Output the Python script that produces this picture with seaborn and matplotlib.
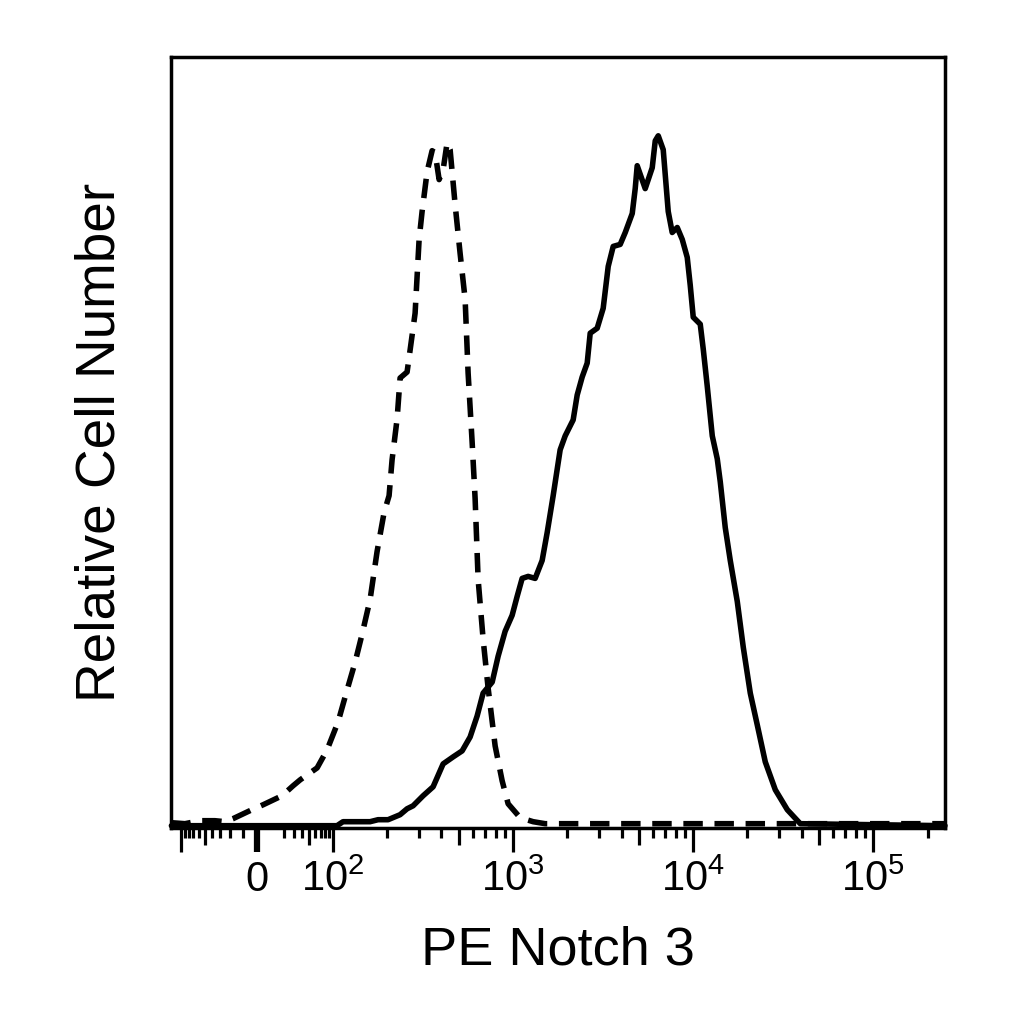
import numpy as np
import pandas as pd
import seaborn as sns
import matplotlib.pyplot as plt

# isotype control (dashed)
iso_x = [-113, -89.3, -57.5, -36.0, -25.0, -17.8, -3.5, 4.2, 18.6, 29.1, 37.3, 63.1, 84.3,
         106.6, 119.6, 132.6, 144.9, 160.6, 175.6, 192.0, 204.7, 212.7, 226.8, 235.6, 257.7,
         267.8, 285.5, 300.5, 312.2, 332.9, 354.8, 368.7, 388.1, 408.5, 429.9, 446.7, 476.2,
         507.6, 541.2, 562.3, 591.8, 615.0, 639.1, 681.3, 726.3, 794.3, 868.8, 937.9, 1093.6,
         1291.5, 1506, 250000]
iso_y = [0.39, 0.26, 0.65, 0.65, 0.52, 0.91, 2.08, 2.72, 3.89, 5.19, 5.97, 7.52, 9.86,
         13.49, 17.64, 21.27, 24.90, 29.44, 35.67, 40.73, 42.93, 47.60, 52.92, 58.24, 59.02,
         61.87, 66.67, 76.26, 79.90, 85.08, 87.81, 87.55, 84.05, 85.34, 88.85, 87.94, 80.80,
         74.45, 68.48, 58.88, 49.94, 42.54, 32.04, 24.25, 17.90, 10.38, 5.84, 2.85, 1.04,
         0.52, 0.26, 0.26]

# PE Notch 3 stained (solid)
notch_x = [-113, 105.2, 113.6, 160.6, 177.8, 202.1, 235.6, 257.7, 278.3, 316.2, 359.4, 408.5,
           464.2, 520.9, 576.9, 631.0, 681.3, 764.9, 825.4, 902.7, 987.3, 1052.5, 1122, 1211.5,
           1325, 1449, 1545, 1668, 1824, 1945, 2154, 2268, 2417, 2577, 2678, 2929, 3162, 3372,
           3594, 3930, 4192, 4584, 4762, 4885, 5412, 5920, 6152, 6393, 6813, 7263, 7642, 8150,
           8690, 9261, 9624, 10000, 10937, 11365, 11958, 12755, 13594, 14125, 15058, 16054,
           17557, 18957, 20734, 22679, 25119, 28554, 33285, 39300, 250000]
notch_y = [0, 0, 0.52, 0.52, 0.78, 0.78, 1.43, 2.20, 2.59, 3.89, 5.06, 8.04,
           8.95, 9.73, 11.54, 14.27, 17.25, 18.68, 22.05, 25.29, 27.37, 29.83, 32.17, 32.43,
           32.17, 34.50, 38.13, 42.93, 48.90, 50.71, 52.79, 56.03, 58.37, 60.18, 64.07, 64.72,
           67.31, 72.76, 75.36, 75.62, 77.17, 79.64, 82.88, 85.86, 82.88, 85.60, 89.10, 89.75,
           87.94, 79.90, 77.17, 77.82, 76.26, 73.93, 70.30, 66.15, 65.24, 62.00, 57.20, 50.71,
           47.73, 44.75, 38.78, 34.50, 29.18, 23.22, 17.25, 13.10, 8.30, 4.67, 2.08, 0.26, 0]

# axis ticks
major_vals = [-100, -50, 0, 50, 100, 500, 1000, 5000, 10000, 50000, 100000]
major_labels = ['', '', '0', '', r'$\mathregular{10^{2}}$', '', r'$\mathregular{10^{3}}$', '',
                r'$\mathregular{10^{4}}$', '', r'$\mathregular{10^{5}}$']
medium_vals = [-50, 50, 500, 5000, 50000]
minor_vals = ([-90, -80, -70, -60, -40, -30, -20, -10, 20, 30, 40, 60, 70, 80, 90]
              + [200, 300, 400, 600, 700, 800, 900]
              + [2000, 3000, 4000, 6000, 7000, 8000, 9000]
              + [20000, 30000, 40000, 60000, 70000, 80000, 90000, 200000])

# biexponential-like display scale (log above 100, asinh-compressed near zero)
D = 76 / 180
K = 25.0
A = D / np.arcsinh(100 / K)


def fwd(x):
    x = np.asarray(x, dtype=float)
    a = np.abs(x)
    inner = A * np.arcsinh(a / K)
    outer = D + np.log10(np.maximum(a, 1e-12) / 100)
    return np.sign(x) * np.where(a < 100, inner, outer)


def inv(y):
    y = np.asarray(y, dtype=float)
    b = np.abs(y)
    inner = K * np.sinh(np.minimum(b, D) / A)
    outer = 100 * 10 ** np.minimum(b - D, 30)
    return np.sign(y) * np.where(b < D, inner, outer)


iso = pd.DataFrame({'intensity': iso_x, 'count': iso_y})
notch = pd.DataFrame({'intensity': notch_x, 'count': notch_y})

sns.set_style('ticks')
plt.rcParams['font.family'] = ['Liberation Sans', 'DejaVu Sans']
plt.rcParams['text.color'] = 'black'
plt.rcParams['axes.labelcolor'] = 'black'
plt.rcParams['xtick.color'] = 'black'
plt.rcParams['xtick.labelcolor'] = 'black'

fig = plt.figure(figsize=(10.24, 10.24), dpi=100)
ax = fig.add_axes([171 / 1024, 1 - 828 / 1024, 774 / 1024, 771 / 1024])
ax.set_xscale('function', functions=(fwd, inv))

sns.lineplot(data=iso, x='intensity', y='count', ax=ax, color='black', linewidth=4.0,
             linestyle=(0, (3.5, 2.1)), estimator=None, sort=False, clip_on=False)
sns.lineplot(data=notch, x='intensity', y='count', ax=ax, color='black', linewidth=4.0,
             estimator=None, sort=False, clip_on=False)

ax.set_xlim(-113.6, 250000)
ax.set_ylim(-0.3, 100)

ax.set_xticks(major_vals, labels=major_labels)
ax.set_xticks(minor_vals, minor=True)
ax.set_yticks([])
ax.tick_params(axis='x', which='major', length=17, width=2.3, pad=6, labelsize=30,
               direction='out', color='black', labelcolor='black')
ax.tick_params(axis='x', which='minor', length=7.5, width=2.3, direction='out', color='black')
for tick, v in zip(ax.xaxis.get_major_ticks(), major_vals):
    if v in medium_vals:
        tick.tick1line.set_markersize(12)
    if v == 0:
        tick.tick1line.set_markeredgewidth(4.5)
for lbl in ax.get_xticklabels():
    lbl.set_fontfamily(['Liberation Sans Narrow', 'Liberation Sans', 'DejaVu Sans'])

for s in ax.spines.values():
    s.set_visible(True)
    s.set_linewidth(2.5)
    s.set_color('black')

ax.set_xlabel('PE Notch 3', fontsize=39, labelpad=18, color='black')
ax.set_ylabel('Relative Cell Number', fontsize=39.5, labelpad=32, color='black')

fig.savefig('out.png', dpi=100, facecolor='white')
